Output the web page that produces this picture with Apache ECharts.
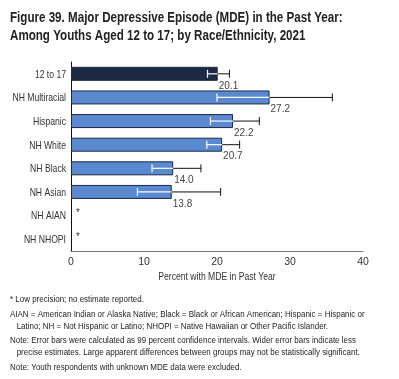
<!DOCTYPE html>
<html><head><meta charset="utf-8">
<script src="https://cdn.jsdelivr.net/npm/echarts@6/dist/echarts.min.js"></script>
<style>html,body{margin:0;padding:0;background:#fff}#c{width:399px;height:379px}</style>
</head><body><div id="c"></div>
<script>
const categories = ['12 to 17','NH Multiracial','Hispanic','NH White','NH Black','NH Asian','NH AIAN','NH NHOPI'];
const values = [20.1,27.2,22.2,20.7,14.0,13.8,null,null];
const lower  = [18.7,20.0,19.1,18.6,11.1,9.1,null,null];
const upper  = [21.7,35.8,25.8,23.1,17.8,20.5,null,null];
const xTicks = [0,10,20,30,40];
const titleLines = ['Figure 39. Major Depressive Episode (MDE) in the Past Year:','Among Youths Aged 12 to 17; by Race/Ethnicity, 2021'];
const axisTitle = 'Percent with MDE in Past Year';
const notes = [
  '* Low precision; no estimate reported.',
  'AIAN = American Indian or Alaska Native; Black = Black or African American; Hispanic = Hispanic or',
  '   Latino; NH = Not Hispanic or Latino; NHOPI = Native Hawaiian or Other Pacific Islander.',
  'Note: Error bars were calculated as 99 percent confidence intervals. Wider error bars indicate less',
  '   precise estimates. Large apparent differences between groups may not be statistically significant.',
  'Note: Youth respondents with unknown MDE data were excluded.'
];
const noteY = [299, 314, 326, 340, 352, 367];

const FONT = '"Liberation Sans","Arial",sans-serif';
const DARK = '#1c2a44', BLUE = '#5a89cf';
const SX = 0.82;

const chart = echarts.init(document.getElementById('c'));
const barData = values.map((v,i)=>({
  value: v,
  itemStyle: {color: i===0 ? DARK : BLUE, borderColor: DARK, borderWidth: 1}
}));
const errData = categories.map((c,i)=>[i, lower[i], values[i], upper[i]]);
const labData = categories.map((c,i)=>[0, i]);

const graphics = [];
titleLines.forEach((t,k)=>graphics.push({type:'text', x:10, y:18+k*18, scaleX:0.8,
  style:{text:t, x:0, y:0, fill:'#222', font:'bold 14.5px '+FONT, textVerticalAlign:'middle'}}));
notes.forEach((t,k)=>graphics.push({type:'text', x:10, y:noteY[k], scaleX:0.84,
  style:{text:t, x:0, y:0, fill:'#222', font:'9.5px '+FONT, textVerticalAlign:'middle'}}));
graphics.push({type:'text', x:217, y:277, scaleX:SX,
  style:{text:axisTitle, x:0, y:0, fill:'#333', font:'10.5px '+FONT, textAlign:'center', textVerticalAlign:'middle'}});

chart.setOption({
  animation:false,
  grid:{left:71, right:36, top:62, bottom:128},
  xAxis:{type:'value', min:0, max:40, interval:10,
    axisLine:{show:true,lineStyle:{color:'#777',width:1}}, axisTick:{show:false}, splitLine:{show:false},
    axisLabel:{fontFamily:FONT,fontSize:10.5,color:'#333',margin:6,
      formatter:v=>xTicks.includes(v)?String(v):''}},
  yAxis:{type:'category', data:categories, inverse:true,
    axisLine:{show:true,lineStyle:{color:'#111',width:1}}, axisTick:{show:false},
    axisLabel:{show:false}},
  series:[
    {type:'bar', data:barData, barWidth:14,
      label:{show:true, position:['100%','100%'], offset:[1,0], align:'left', verticalAlign:'top',
        fontFamily:FONT, fontSize:10, color:'#444', formatter:p=>p.value.toFixed(1)}},
    {type:'custom', data:labData, silent:true,
      renderItem:(params, api)=>{
        const i = api.value(1);
        const p = api.coord([0, i]);
        return {type:'text', x:p[0]-5, y:p[1]+1, scaleX:SX,
          style:{text:categories[i], x:0, y:0, fill:'#333', font:'10.5px '+FONT, textAlign:'right', textVerticalAlign:'middle'}};
      }},
    {type:'custom', data:errData, z:5,
      renderItem:(params, api)=>{
        const i = api.value(0);
        const lo = api.value(1), v = api.value(2), hi = api.value(3);
        if (isNaN(v)) {
          const p = api.coord([0, i]);
          return {type:'text', style:{text:'*', x:p[0]+5, y:p[1]-2, fill:'#333', font:'10px '+FONT, textAlign:'left', textVerticalAlign:'middle'}};
        }
        const pl = api.coord([lo, i]), pv = api.coord([v, i]), ph = api.coord([hi, i]);
        const y = pl[1], cap = 4;
        return {type:'group', children:[
          {type:'line', shape:{x1:pl[0],y1:y,x2:pv[0],y2:y}, style:{stroke:'#fff',lineWidth:1.2}},
          {type:'line', shape:{x1:pl[0],y1:y-cap,x2:pl[0],y2:y+cap}, style:{stroke:'#fff',lineWidth:1.2}},
          {type:'line', shape:{x1:pv[0],y1:y,x2:ph[0],y2:y}, style:{stroke:'#111',lineWidth:1}},
          {type:'line', shape:{x1:ph[0],y1:y-cap,x2:ph[0],y2:y+cap}, style:{stroke:'#111',lineWidth:1}}
        ]};
      }}
  ],
  graphic: graphics
});
</script></body></html>
